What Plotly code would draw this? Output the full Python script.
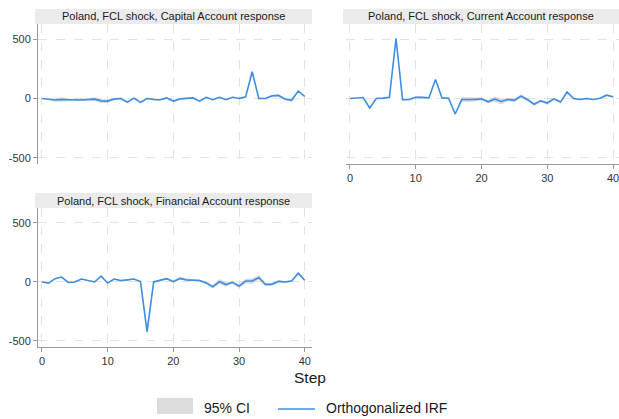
import plotly.graph_objects as go

# Impulse-response data: steps 0..40
steps = list(range(41))

capital_irf = [0, -8, -12, -8, -10, -10, -12, -8, -5, -20, -22, -5, 0, -30, 3, -32, 0, -8, -10, 5,
               -22, -3, 3, 5, -22, 10, -10, 10, -10, 10, 0, 15, 225, 0, 0, 22, 26, -5, -15, 62, 18]
capital_ci_half = [0, 8, 15, 18, 10, 8, 10, 12, 15, 18, 15, 10, 8, 12, 8, 10, 8, 8, 8, 8,
                   8, 6, 6, 6, 6, 6, 6, 6, 6, 6, 6, 6, 8, 6, 6, 8, 8, 12, 12, 8, 6]

current_irf = [0, 2, 8, -80, 0, 3, 10, 505, -10, -8, 10, 10, 5, 160, 5, 3, -130, -8, -10, -8,
               -3, -28, -5, -25, -8, -15, 20, -10, -48, -20, -38, -3, -30, 55, 0, -8, 0, -8, 3, 28, 15]
current_ci_half = [0, 3, 4, 5, 4, 4, 5, 15, 6, 8, 8, 6, 6, 8, 6, 8, 10, 20, 22, 18,
                   12, 14, 22, 25, 14, 14, 16, 14, 12, 12, 12, 10, 12, 10, 8, 8, 6, 6, 6, 6, 6]

financial_irf = [0, -10, 28, 42, -3, 0, 25, 15, 0, 50, -8, 25, 12, 18, 25, 3, -420, 0, 15, 28,
                 3, 30, 18, 18, 12, -8, -40, 3, -22, -3, -35, 8, 8, 38, -20, -20, 5, 0, 8, 75, 15]
financial_ci_half = [0, 5, 5, 5, 5, 4, 4, 4, 4, 5, 5, 5, 5, 5, 5, 6, 40, 8, 10, 10,
                     10, 12, 10, 10, 10, 12, 15, 22, 18, 15, 15, 20, 22, 20, 14, 12, 12, 10, 8, 12, 8]

panel_titles = [
    "Poland, FCL shock, Capital Account response",
    "Poland, FCL shock, Current Account response",
    "Poland, FCL shock, Financial Account response",
]
x_ticks = [0, 10, 20, 30, 40]
y_ticks = [-500, 0, 500]
y_tick_text = ["-500", "0", "500"]

W, H = 619, 419
LINE_BLUE = "#3f8fe0"
CI_FILL = "rgba(190,190,190,0.55)"
FONT = "Liberation Sans, Arial, sans-serif"

fig = go.Figure()

panels = [
    (capital_irf, capital_ci_half, "x", "y"),
    (current_irf, current_ci_half, "x2", "y2"),
    (financial_irf, financial_ci_half, "x3", "y3"),
]
for irf, half, xa, ya in panels:
    lower = [v - h for v, h in zip(irf, half)]
    upper = [v + h for v, h in zip(irf, half)]
    fig.add_trace(go.Scatter(x=steps, y=lower, mode="lines", line=dict(width=0),
                             xaxis=xa, yaxis=ya, showlegend=False, hoverinfo="skip"))
    fig.add_trace(go.Scatter(x=steps, y=upper, mode="lines", line=dict(width=0),
                             fill="tonexty", fillcolor=CI_FILL,
                             xaxis=xa, yaxis=ya, showlegend=False, name="95% CI"))
    fig.add_trace(go.Scatter(x=steps, y=irf, mode="lines",
                             line=dict(color=LINE_BLUE, width=1.6),
                             xaxis=xa, yaxis=ya, showlegend=False, name="Orthogonalized IRF"))


def px_x(v):
    return v / W


def px_y(v):
    return 1 - v / H


grid = dict(showgrid=True, gridcolor="#e3e3e3", griddash="dash", gridwidth=1, zeroline=False)
tickfont = dict(family=FONT, size=11, color="#333333")
y_range = [-551, 627]

left_dom = [px_x(38), px_x(312)]
right_dom = [px_x(346), px_x(619)]
top_dom = [px_y(164), px_y(24)]
bot_dom = [px_y(347), px_y(208)]

axis_line = dict(showline=True, linecolor="#9a9a9a", linewidth=1, ticks="outside",
                 ticklen=4, tickcolor="#9a9a9a", tickfont=tickfont,
                 ticklabeloverflow="allow")

fig.update_layout(
    width=W, height=H,
    margin=dict(l=0, r=0, t=0, b=0),
    paper_bgcolor="white", plot_bgcolor="white",
    showlegend=False,
    xaxis=dict(domain=left_dom, range=[-0.6, 41.1], anchor="y", tickvals=x_ticks,
               showticklabels=False, showline=False, ticks="", **grid),
    yaxis=dict(domain=top_dom, range=y_range, anchor="x", tickvals=y_ticks,
               ticktext=y_tick_text, **axis_line, **grid),
    xaxis2=dict(domain=right_dom, range=[-0.6, 40.9], anchor="y2", tickvals=x_ticks,
                **axis_line, **grid),
    yaxis2=dict(domain=top_dom, range=y_range, anchor="x2", tickvals=y_ticks,
                showticklabels=False, showline=False, ticks="", **grid),
    xaxis3=dict(domain=left_dom, range=[-0.6, 41.1], anchor="y3", tickvals=x_ticks,
                **axis_line, **grid),
    yaxis3=dict(domain=bot_dom, range=y_range, anchor="x3", tickvals=y_ticks,
                ticktext=y_tick_text, **axis_line, **grid),
)

# Panel title strips
strips = [
    (35, 312, 9, 24, panel_titles[0]),
    (343, 619, 9, 24, panel_titles[1]),
    (35, 312, 193, 208, panel_titles[2]),
]
shapes = []
annotations = []
for x0, x1, y0, y1, txt in strips:
    shapes.append(dict(type="rect", xref="paper", yref="paper",
                       x0=px_x(x0), x1=px_x(x1), y0=px_y(y1), y1=px_y(y0),
                       fillcolor="#ebebeb", line=dict(width=0), layer="below"))
    annotations.append(dict(text=txt, xref="paper", yref="paper",
                            x=px_x((x0 + x1) / 2), y=px_y((y0 + y1) / 2),
                            xanchor="center", yanchor="middle", showarrow=False,
                            font=dict(family=FONT, size=11, color="#1a1a1a")))

# Shared x-axis title
annotations.append(dict(text="Step", xref="paper", yref="paper", x=px_x(310), y=px_y(377),
                        xanchor="center", yanchor="middle", showarrow=False,
                        font=dict(family=FONT, size=15.5, color="#1a1a1a")))

# Legend key
shapes.append(dict(type="rect", xref="paper", yref="paper",
                   x0=px_x(157), x1=px_x(193), y0=px_y(414), y1=px_y(398),
                   fillcolor="#dcdcdc", line=dict(width=0)))
shapes.append(dict(type="line", xref="paper", yref="paper",
                   x0=px_x(278), x1=px_x(315), y0=px_y(409), y1=px_y(409),
                   line=dict(color=LINE_BLUE, width=1.6)))
annotations.append(dict(text="95% CI", xref="paper", yref="paper", x=px_x(202), y=px_y(408),
                        xanchor="left", yanchor="middle", showarrow=False,
                        font=dict(family=FONT, size=14, color="#1a1a1a")))
annotations.append(dict(text="Orthogonalized IRF", xref="paper", yref="paper",
                        x=px_x(324), y=px_y(408),
                        xanchor="left", yanchor="middle", showarrow=False,
                        font=dict(family=FONT, size=14, color="#1a1a1a")))

fig.update_layout(shapes=shapes, annotations=annotations)

fig.write_html("out.html")
